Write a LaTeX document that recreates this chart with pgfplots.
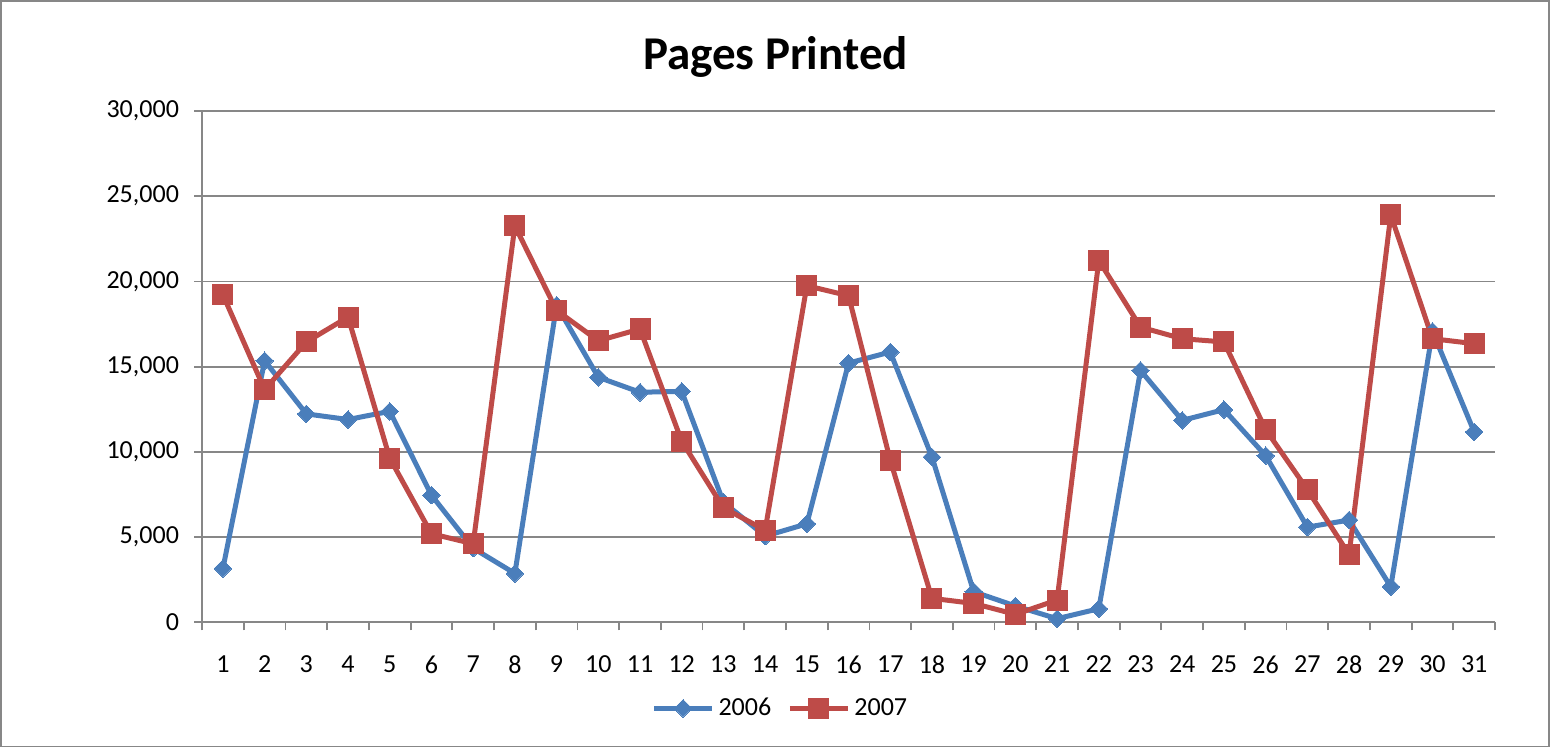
\documentclass[border=0pt]{standalone}
\usepackage{pgfplots}
\pgfplotsset{compat=1.18}
\usepackage{fontspec}
\setmainfont{Carlito}
\definecolor{ser1}{HTML}{4A7EBB}
\definecolor{ser2}{HTML}{BE4B48}
\definecolor{gridc}{HTML}{878787}
\begin{document}
\begin{tikzpicture}
\begin{axis}[
  scale only axis,
  width=646pt, height=255.5pt,
  xmin=0.5, xmax=31.5,
  ymin=0, ymax=30000,
  xtick={1,...,31},
  minor xtick={0.5,1.5,...,31.5},
  major x tick style={draw=none},
  ytick={0,5000,...,30000},
  tick align=outside,
  tick pos=left,
  major tick length=4pt,
  minor tick length=4pt,
  every tick/.style={gridc, line width=0.9pt},
  ymajorgrids,
  grid style={gridc, line width=0.9pt},
  axis line style={gridc, line width=0.9pt},
  axis x line*=bottom,
  axis y line*=left,
  separate axis lines,
  /pgf/number format/assume math mode=true,
  /pgf/number format/1000 sep={,},
  scaled y ticks=false,
  tick label style={font=\fontsize{13}{15}\selectfont, black},
  xticklabel style={yshift=-9pt},
  yticklabel style={xshift=-4pt},
  title={Pages Printed},
  title style={at={(0.4435,1)}, anchor=center, yshift=21pt, font=\bfseries\fontsize{23.5}{28}\selectfont},
  legend style={at={(0.448,-0.168)}, anchor=center, draw=none, legend columns=2,
    font=\fontsize{13}{15}\selectfont,
    /tikz/every even column/.append style={column sep=6pt}},
  legend image code/.code={
    \draw[mark repeat=2, mark phase=2] plot coordinates {(0cm,0cm) (14.5pt,0cm) (29pt,0cm)};
  },
  line join=round,
]
\addplot[ser1, line width=2.5pt, mark=square*, mark size=3.1pt, mark options={rotate=45, line width=0pt, fill=ser1}]
coordinates {
(1,3160) (2,15350) (3,12230) (4,11900) (5,12380) (6,7460) (7,4350) (8,2870)
(9,18600) (10,14380) (11,13500) (12,13550) (13,7050) (14,5060) (15,5780)
(16,15210) (17,15860) (18,9700) (19,1800) (20,960) (21,215) (22,800)
(23,14780) (24,11850) (25,12480) (26,9780) (27,5590) (28,6000) (29,2090)
(30,17070) (31,11170)
};
\addlegendentry{2006}
\addplot[ser2, line width=2.5pt, mark=square*, mark size=5pt, mark options={line width=0pt, fill=ser2}]
coordinates {
(1,19220) (2,13650) (3,16450) (4,17910) (5,9630) (6,5200) (7,4610) (8,23260)
(9,18300) (10,16520) (11,17210) (12,10630) (13,6720) (14,5410) (15,19750)
(16,19160) (17,9510) (18,1410) (19,1110) (20,470) (21,1310) (22,21230)
(23,17320) (24,16640) (25,16450) (26,11310) (27,7790) (28,3980) (29,23900)
(30,16640) (31,16350)
};
\addlegendentry{2007}
\end{axis}
\draw[gridc, line width=0.9pt] (-100.5pt,-62pt) rectangle (673pt,310.5pt);
\end{tikzpicture}
\end{document}
